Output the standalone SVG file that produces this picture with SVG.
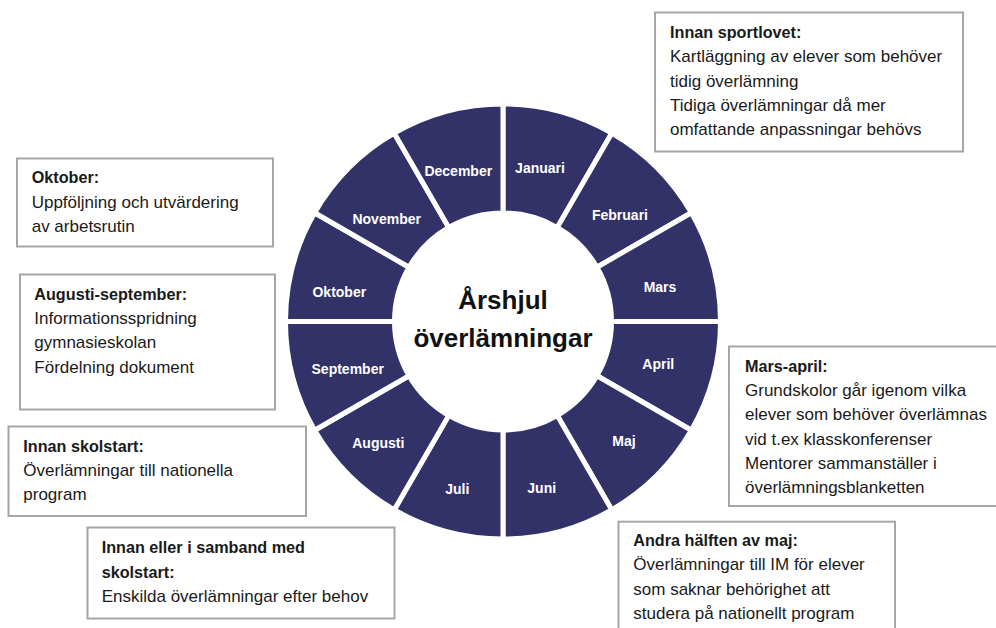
<svg xmlns="http://www.w3.org/2000/svg" xmlns:xlink="http://www.w3.org/1999/xlink" width="996" height="628" viewBox="0 0 996 628">
<style>
.box{fill:#ffffff;stroke:#a6a6a6;stroke-width:2}
.t{font-family:"Liberation Sans",Arial,sans-serif;font-size:17px;fill:#1a1a1a}
.b{font-weight:bold;font-size:16.2px}
.seg{fill:#323269;stroke:#ffffff;stroke-width:5;stroke-linejoin:miter}
.m{font-family:"Liberation Sans",Arial,sans-serif;font-size:14px;font-weight:bold;fill:#ffffff;text-anchor:middle}
.title{font-family:"Liberation Sans",Arial,sans-serif;font-size:26px;font-weight:bold;fill:#111111;text-anchor:middle}
</style>
<defs>
<path id="seg" d="M503 104 A217.5 217.5 0 0 1 611.75 133.14 L557.25 227.54 A108.5 108.5 0 0 0 503 213 Z"/>
</defs>
<rect width="996" height="628" fill="#ffffff"/>
<g id="wheel">
<g id="m-januari"><use xlink:href="#seg" class="seg"/><text class="m" x="540" y="172.7">Januari</text></g>
<g id="m-februari"><use xlink:href="#seg" class="seg" transform="rotate(30 503 321.5)"/><text class="m" x="620" y="220">Februari</text></g>
<g id="m-mars"><use xlink:href="#seg" class="seg" transform="rotate(60 503 321.5)"/><text class="m" x="660" y="291.7">Mars</text></g>
<g id="m-april"><use xlink:href="#seg" class="seg" transform="rotate(90 503 321.5)"/><text class="m" x="658.3" y="369.3">April</text></g>
<g id="m-maj"><use xlink:href="#seg" class="seg" transform="rotate(120 503 321.5)"/><text class="m" x="624" y="445.7">Maj</text></g>
<g id="m-juni"><use xlink:href="#seg" class="seg" transform="rotate(150 503 321.5)"/><text class="m" x="541.7" y="493.3">Juni</text></g>
<g id="m-juli"><use xlink:href="#seg" class="seg" transform="rotate(180 503 321.5)"/><text class="m" x="457.3" y="494.3">Juli</text></g>
<g id="m-augusti"><use xlink:href="#seg" class="seg" transform="rotate(210 503 321.5)"/><text class="m" x="378.3" y="447.7">Augusti</text></g>
<g id="m-september"><use xlink:href="#seg" class="seg" transform="rotate(240 503 321.5)"/><text class="m" x="347.7" y="374.3">September</text></g>
<g id="m-oktober"><use xlink:href="#seg" class="seg" transform="rotate(270 503 321.5)"/><text class="m" x="339.3" y="296.7">Oktober</text></g>
<g id="m-november"><use xlink:href="#seg" class="seg" transform="rotate(300 503 321.5)"/><text class="m" x="386.7" y="224.3">November</text></g>
<g id="m-december"><use xlink:href="#seg" class="seg" transform="rotate(330 503 321.5)"/><text class="m" x="458.3" y="176">December</text></g>
<g id="center"><text class="title" x="503" y="308.5">Årshjul</text><text class="title" x="503" y="346.5">överlämningar</text></g>
</g>
<g id="box-sportlovet">
<rect class="box" x="655" y="12.5" width="308" height="139"/>
<text class="t b" x="670" y="38.3">Innan sportlovet:</text>
<text class="t" x="670" y="62">Kartläggning av elever som behöver</text>
<text class="t" x="670" y="86.5">tidig överlämning</text>
<text class="t" x="670" y="111">Tidiga överlämningar då mer</text>
<text class="t" x="670" y="135.3">omfattande anpassningar behövs</text>
</g>
<g id="box-oktober">
<rect class="box" x="17" y="158.5" width="256" height="88"/>
<text class="t b" x="31.7" y="183.3">Oktober:</text>
<text class="t" x="31.7" y="208">Uppföljning och utvärdering</text>
<text class="t" x="31.7" y="232">av arbetsrutin</text>
</g>
<g id="box-augusti-september">
<rect class="box" x="20" y="274.5" width="255" height="135"/>
<text class="t b" x="34.3" y="300">Augusti-september:</text>
<text class="t" x="34.3" y="324">Informationsspridning</text>
<text class="t" x="34.3" y="348.3">gymnasieskolan</text>
<text class="t" x="34.3" y="372.5">Fördelning dokument</text>
</g>
<g id="box-skolstart">
<rect class="box" x="8.5" y="426.5" width="297.5" height="89.5"/>
<text class="t b" x="23.3" y="451.7">Innan skolstart:</text>
<text class="t" x="23.3" y="476">Överlämningar till nationella</text>
<text class="t" x="23.3" y="500.3">program</text>
</g>
<g id="box-samband">
<rect class="box" x="87.5" y="527.5" width="307" height="91"/>
<text class="t b" x="101.7" y="553.3">Innan eller i samband med</text>
<text class="t b" x="101.7" y="577.5">skolstart:</text>
<text class="t" x="101.7" y="601.7">Enskilda överlämningar efter behov</text>
</g>
<g id="box-mars-april">
<rect class="box" x="729" y="346.5" width="275" height="159.5"/>
<text class="t b" x="745" y="371.7">Mars-april:</text>
<text class="t" x="745" y="396">Grundskolor går igenom vilka</text>
<text class="t" x="745" y="420.3">elever som behöver överlämnas</text>
<text class="t" x="745" y="444.5">vid t.ex klasskonferenser</text>
<text class="t" x="745" y="468.7">Mentorer sammanställer i</text>
<text class="t" x="745" y="493">överlämningsblanketten</text>
</g>
<g id="box-maj">
<rect class="box" x="618.5" y="521.7" width="276.5" height="120"/>
<text class="t b" x="633.3" y="545.5">Andra hälften av maj:</text>
<text class="t" x="633.3" y="570">Överlämningar till IM för elever</text>
<text class="t" x="633.3" y="594.5">som saknar behörighet att</text>
<text class="t" x="633.3" y="619">studera på nationellt program</text>
</g>
</svg>
